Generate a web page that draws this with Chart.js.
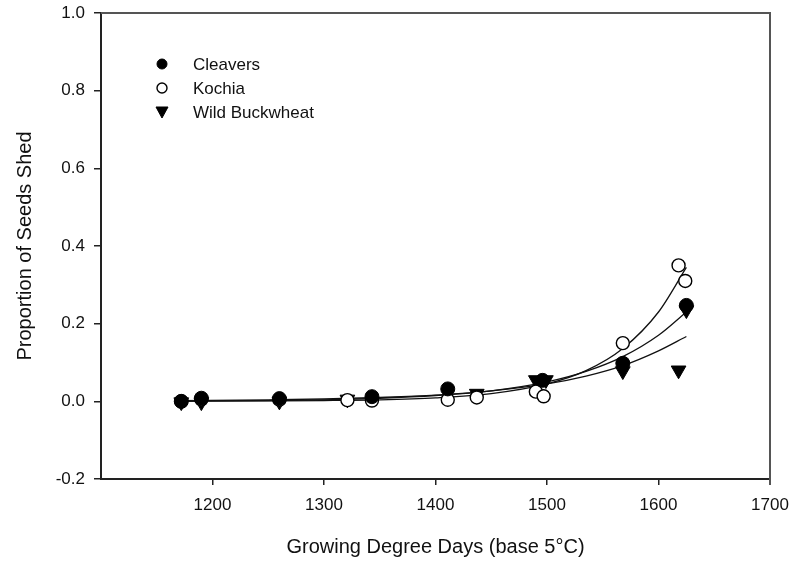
<!DOCTYPE html>
<html>
<head>
<meta charset="utf-8">
<script src="https://cdn.jsdelivr.net/npm/chart.js@4.4.1/dist/chart.umd.min.js"></script>
<style>
  html, body { margin: 0; padding: 0; background: #fff; }
  #wrap { width: 792px; height: 567px; }
</style>
</head>
<body>
<div id="wrap"><canvas id="seeds"></canvas></div>
<script>
// observed proportions
var cleaversX = [1172, 1190, 1260, 1343, 1411, 1496, 1568, 1625];
var cleaversY = [0.000, 0.008, 0.007, 0.012, 0.032, 0.054, 0.098, 0.247];
var kochiaX = [1172, 1190, 1260, 1321, 1343, 1411, 1437, 1490, 1497, 1568, 1618, 1624];
var kochiaY = [0.000, 0.005, 0.004, 0.003, 0.002, 0.004, 0.010, 0.025, 0.013, 0.150, 0.350, 0.310];
var buckwheatX = [1172, 1190, 1260, 1321, 1437, 1490, 1499, 1568, 1618, 1625];
var buckwheatY = [-0.002, -0.002, 0.000, 0.005, 0.020, 0.055, 0.055, 0.078, 0.080, 0.235];

// fitted curves
var fitX = [1172, 1250, 1300, 1350, 1400, 1450, 1500, 1535, 1568, 1600, 1625];
var cleaversFit = [0.001, 0.002, 0.004, 0.008, 0.015, 0.027, 0.050, 0.077, 0.115, 0.170, 0.230];
var kochiaFit = [0.000, 0.001, 0.002, 0.004, 0.009, 0.020, 0.045, 0.079, 0.136, 0.230, 0.345];
var buckwheatFit = [0.002, 0.004, 0.006, 0.010, 0.016, 0.027, 0.045, 0.065, 0.092, 0.130, 0.167];

var xTicks = [1200, 1300, 1400, 1500, 1600, 1700];

var FONT = '"Liberation Sans", Arial, sans-serif';

function pts(xs, ys) {
  return xs.map(function(x, i) { return {x: x, y: ys[i]}; });
}

function fitLine(xs, ys) {
  return {
    type: 'line',
    data: pts(xs, ys),
    borderColor: '#111',
    borderWidth: 1.3,
    pointRadius: 0,
    fill: false,
    cubicInterpolationMode: 'monotone',
    isFit: true
  };
}

var frame = {
  id: 'frame',
  afterDatasetsDraw: function(chart) {
    var a = chart.chartArea, c = chart.ctx;
    c.save();
    c.strokeStyle = '#555';
    c.lineWidth = 2;
    c.beginPath();
    c.moveTo(a.left, a.top);
    c.lineTo(a.right, a.top);
    c.lineTo(a.right, a.bottom + 6);
    c.stroke();
    c.restore();
  }
};

var insideLegend = {
  id: 'insideLegend',
  afterDraw: function(chart) {
    var c = chart.ctx;
    var a = chart.chartArea;
    var rows = chart.data.datasets.filter(function(d) { return !d.isFit; });
    c.save();
    c.font = '17px ' + FONT;
    c.textBaseline = 'middle';
    rows.forEach(function(d, i) {
      var y = a.top + 51 + i * 24;
      var x = a.left + 61;
      c.fillStyle = d.backgroundColor;
      c.strokeStyle = d.borderColor;
      c.lineWidth = d.borderWidth;
      c.beginPath();
      if (d.pointStyle === 'circle') {
        c.arc(x, y, 5, 0, Math.PI * 2);
      } else {
        c.moveTo(x - 6, y - 5);
        c.lineTo(x + 6, y - 5);
        c.lineTo(x, y + 6);
        c.closePath();
      }
      c.fill();
      c.stroke();
      c.fillStyle = '#111';
      c.fillText(d.label, a.left + 92, y + 1);
    });
    c.restore();
  }
};

var ctx = document.getElementById('seeds').getContext('2d');

var myChart = new Chart(ctx, {
  type: 'scatter',
  data: {
    datasets: [
      {
        label: 'Cleavers',
        data: pts(cleaversX, cleaversY),
        pointStyle: 'circle',
        pointRadius: 7,
        backgroundColor: '#000',
        borderColor: '#000',
        borderWidth: 1
      },
      {
        label: 'Kochia',
        data: pts(kochiaX, kochiaY),
        pointStyle: 'circle',
        pointRadius: 6.5,
        backgroundColor: '#fff',
        borderColor: '#000',
        borderWidth: 1.4
      },
      {
        label: 'Wild Buckwheat',
        data: pts(buckwheatX, buckwheatY),
        pointStyle: 'triangle',
        pointRadius: 8.5,
        rotation: 180,
        pointRotation: 180,
        backgroundColor: '#000',
        borderColor: '#000',
        borderWidth: 1
      },
      fitLine(fitX, cleaversFit),
      fitLine(fitX, kochiaFit),
      fitLine(fitX, buckwheatFit)
    ]
  },
  options: {
    responsive: true,
    maintainAspectRatio: false,
    animation: false,
    layout: { padding: { top: 13, right: 22, left: 0, bottom: 0 } },
    plugins: {
      legend: { display: false },
      tooltip: { enabled: false }
    },
    scales: {
      x: {
        type: 'linear',
        min: 1100,
        max: 1700,
        afterFit: function(s) {
          s.height = 88;
          s.paddingLeft = 0;
          s.paddingRight = 0;
        },
        afterBuildTicks: function(s) {
          s.ticks = xTicks.map(function(v) { return {value: v}; });
        },
        border: { color: '#222', width: 2 },
        grid: { drawOnChartArea: false, color: '#222', tickLength: 6, lineWidth: 1.5 },
        ticks: {
          color: '#111',
          padding: 10,
          maxRotation: 0,
          font: { family: FONT, size: 17 },
          callback: function(v) { return String(v); }
        },
        title: {
          display: true,
          text: 'Growing Degree Days (base 5\u00B0C)',
          color: '#111',
          padding: { top: 0, bottom: 8 },
          font: { family: FONT, size: 20 }
        }
      },
      y: {
        min: -0.2,
        max: 1.0,
        afterFit: function(s) {
          s.width = 101;
          s.paddingTop = 0;
          s.paddingBottom = 0;
        },
        border: { color: '#222', width: 2 },
        grid: { drawOnChartArea: false, color: '#222', tickLength: 7, lineWidth: 1.5 },
        ticks: {
          stepSize: 0.2,
          color: '#111',
          padding: 9,
          font: { family: FONT, size: 17 },
          callback: function(v) { return (Math.abs(v) < 1e-9 ? 0 : v).toFixed(1); }
        },
        title: {
          display: true,
          text: 'Proportion of Seeds Shed',
          color: '#111',
          padding: { top: 13, bottom: 0 },
          font: { family: FONT, size: 20 }
        }
      }
    }
  },
  plugins: [frame, insideLegend]
});
</script>
</body>
</html>
